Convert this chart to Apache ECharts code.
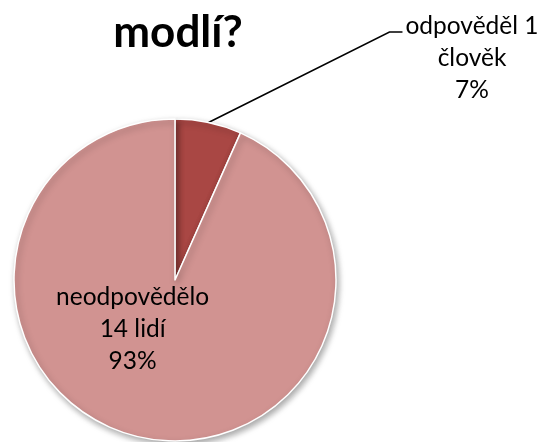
<!DOCTYPE html>
<html><head><meta charset="utf-8">
<script src="https://cdn.jsdelivr.net/npm/echarts@6/dist/echarts.min.js"></script>
<style>html,body{margin:0;padding:0;background:#fff}#c{width:543px;height:442px}</style>
</head><body><div id="c"></div>
<script>
const titleText = 'modlí?';
const categories = ['odpověděl 1\nčlověk', 'neodpovědělo\n14 lidí'];
const values = [1, 14];
const percentLabels = ['7%', '93%'];
const colors = ['#A94744', '#D19391'];

const chart = echarts.init(document.getElementById('c'), null, {renderer: 'canvas'});
const FONT = 'Lato, "Open Sans", sans-serif';
const LH = 32;
const OUT_X = 472, OUT_Y = 58;
chart.setOption({
  animation: false,
  title: {
    text: titleText, left: 173, top: 6, textAlign: 'center',
    textStyle: {fontFamily: FONT, fontWeight: 'bold', fontSize: 44, color: '#000'}
  },
  series: [{
    type: 'pie',
    center: [175, 280],
    radius: 161,
    startAngle: 90,
    clockwise: true,
    itemStyle: {borderColor: '#fff', borderWidth: 1.5, shadowBlur: 6, shadowOffsetX: 2, shadowOffsetY: 3, shadowColor: 'rgba(0,0,0,0.35)'},
    emphasis: {disabled: true},
    data: categories.map((c, i) => ({
      name: c, value: values[i],
      itemStyle: {color: colors[i]},
      label: i === 0 ? {
        position: 'outside', align: 'center'
      } : {
        position: 'inside', offset: [-25, -33]
      },
      labelLine: i === 0 ? {show: true, length: 20, length2: 10, lineStyle: {color: '#000', width: 1.5}} : {show: false}
    })),
    label: {
      formatter: p => p.name + '\n' + percentLabels[p.dataIndex],
      fontFamily: FONT, fontSize: 24.5, lineHeight: LH, color: '#000', textAlign: 'center'
    },
    labelLayout: p => {
      if (p.dataIndex !== 0) return {};
      const res = {x: OUT_X, y: OUT_Y, align: 'center', verticalAlign: 'middle', moveOverlap: false};
      if (p.labelLinePoints && p.labelRect) {
        const left = OUT_X - p.labelRect.width / 2 - 3;
        const yy = OUT_Y - 1.5 * LH + 22;
        res.labelLinePoints = [p.labelLinePoints[0], [left - 13, yy], [left, yy]];
      }
      return res;
    }
  }]
});
</script></body></html>
